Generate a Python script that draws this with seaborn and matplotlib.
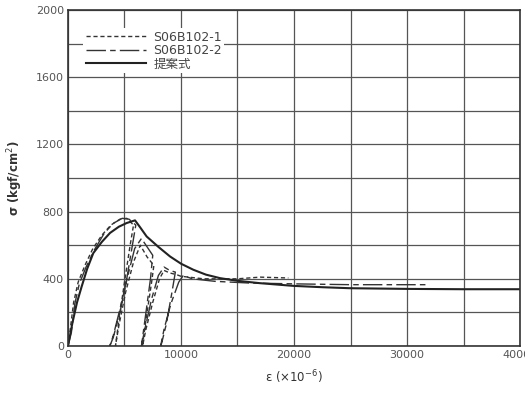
import matplotlib
matplotlib.use("Agg")
import matplotlib.pyplot as plt
import seaborn as sns
import pandas as pd
import numpy as np

# --- data ---
s1_eps = [0, 200, 500, 900, 1500, 2200, 3000, 3800, 4600, 5200, 5800,
          5500, 5000, 4500, 4200, 4500, 5100, 5800, 6400,
          7000, 7600, 7400, 7000, 6700, 6600, 6900, 7500, 8100, 8500,
          9000, 9600, 10000, 12000, 15000, 17000, 19500]
s1_sig = [0, 100, 260, 380, 480, 580, 660, 720, 755, 760, 720,
          600, 380, 150, 0, 120, 320, 500, 600,
          530, 480, 380, 200, 60, 0, 100, 260, 400, 450,
          435, 425, 415, 400, 400, 410, 405]

s2_eps = [0, 300, 600, 1000, 1600, 2400, 3200, 4000, 4800, 5400, 6000,
          5700, 5200, 4600, 4000, 3700, 4000, 4600, 5300, 5900, 6500,
          7000, 7500, 7300, 6900, 6600, 6500, 6800, 7400, 8000, 8500,
          9000, 9500, 9200, 8700, 8300, 8200, 8500, 9100, 9800, 10200,
          11000, 13000, 16000, 20000, 25000, 32000]
s2_sig = [0, 80, 250, 370, 470, 580, 670, 730, 760, 755, 720,
          600, 400, 200, 50, 0, 60, 220, 420, 580, 640,
          590, 540, 400, 200, 50, 0, 100, 280, 420, 470,
          450, 440, 320, 130, 20, 0, 100, 250, 380, 420,
          400, 385, 375, 370, 365, 365]

p_eps = [0, 400, 800, 1210, 1700, 2240, 3000, 3720, 4500, 5190, 5930,
         6400, 6960, 8000, 9030, 10000, 11090, 12200, 13450, 15000, 16990,
         19940, 22500, 24960, 30000, 35000, 40000]
p_sig = [0, 140, 260, 354, 460, 553, 620, 673, 710, 732, 748,
         705, 652, 590, 533, 490, 454, 425, 404, 388, 374,
         358, 350, 344, 340, 338, 338]

labels = ["S06B102-1", "S06B102-2", "提案式"]

plt.rcParams['font.family'] = ['DejaVu Sans', 'Noto Sans CJK JP']
fig = plt.figure(figsize=(5.25, 3.94), dpi=100)
ax = fig.add_axes([0.1295, 0.1218, 0.8610, 0.8528])

lc = "#333333"
d1 = pd.DataFrame({"eps": s1_eps, "sig": s1_sig})
d2 = pd.DataFrame({"eps": s2_eps, "sig": s2_sig})
dp = pd.DataFrame({"eps": p_eps, "sig": p_sig})
sns.lineplot(data=d1, x="eps", y="sig", sort=False, estimator=None, ax=ax,
             color=lc, lw=1.0, label=labels[0]).lines[-1].set_dashes((3, 2))
sns.lineplot(data=d2, x="eps", y="sig", sort=False, estimator=None, ax=ax,
             color=lc, lw=1.0, label=labels[1]).lines[-1].set_dashes((14, 3, 4, 3))
sns.lineplot(data=dp, x="eps", y="sig", sort=False, estimator=None, ax=ax,
             color="#222222", lw=1.5, label=labels[2])

ax.set_xlim(0, 40000)
ax.set_ylim(0, 2000)
ax.set_xticks([0, 10000, 20000, 30000, 40000])
ax.set_yticks([0, 400, 800, 1200, 1600, 2000])
ax.set_xticks(np.arange(0, 40001, 5000), minor=True)
ax.set_yticks(np.arange(0, 2001, 200), minor=True)
ax.grid(which="both", color="#555555", lw=0.9)
ax.tick_params(which="both", length=0, labelsize=8, labelcolor="#555555", pad=3)
for s in ax.spines.values():
    s.set_color("#333333")
    s.set_linewidth(1.2)

ax.set_xlabel("ε (×10$^{-6}$)", fontsize=8.5, color="#333333", labelpad=6)
ax.set_ylabel("σ (kgf/cm$^2$)", fontsize=8.5, color="#333333", labelpad=8, fontweight="bold")

leg = ax.legend(loc="upper left", bbox_to_anchor=(0.02, 0.965), frameon=True,
                handlelength=4.8, borderpad=0.2, labelspacing=0.05, handletextpad=0.6,
                prop={'family': ['DejaVu Sans', 'Noto Sans CJK JP'], 'size': 9})
leg.get_frame().set_edgecolor("none")
leg.get_frame().set_facecolor("white")
leg.get_frame().set_alpha(1)
for t in leg.get_texts():
    t.set_color("#444444")

fig.savefig("out.png", dpi=100)
